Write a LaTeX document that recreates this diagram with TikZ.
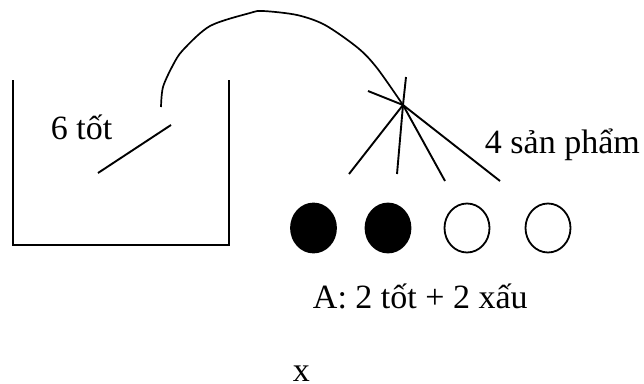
\documentclass[tikz,border=0pt]{standalone}
\usepackage{fontspec}
\setmainfont{Liberation Serif}
\usetikzlibrary{shapes.geometric}
\begin{document}
\begin{tikzpicture}[x=1pt,y=-1pt,line width=1.9pt,
  lbl/.style={font=\fontsize{34}{40}\selectfont, inner sep=0pt},
  ball/.style={ellipse, draw, line width=1.8pt, minimum width=45pt, minimum height=49pt, inner sep=0pt},
  full/.style={ball, fill=black}]
\useasboundingbox (0,0) rectangle (644,383);
% container
\coordinate (bTL) at (13,80);
\coordinate (bBL) at (13,245);
\coordinate (bBR) at (229,245);
\coordinate (bTR) at (229,80);
\draw (bTL) -- (bBL) -- (bBR) -- (bTR);
\coordinate (d1) at (98,173);
\coordinate (d2) at (171,125);
\draw (d1) -- (d2);
\node[lbl, anchor=base west] (six) at (50,139) {6 tốt};
% curve
\coordinate (cs) at (161,107);
\coordinate (star) at (403,105);
\draw[line width=1.7pt] plot[smooth, tension=0.5] coordinates {(161,107) (163,87) (173,65) (183,50) (210,26) (250,13) (263,11) (297,15) (325,25) (358,48) (377,68) (403,105)};
% star lines
\coordinate (sUp) at (406,77);
\coordinate (sLeft) at (368,91);
\coordinate (l1) at (349,174);
\coordinate (l2) at (397,174);
\coordinate (l3) at (445,181);
\coordinate (l4) at (500,181);
\draw (sUp) -- (star);
\draw (sLeft) -- (star);
\draw (star) -- (l1);
\draw (star) -- (l2);
\draw (star) -- (l3);
\draw (star) -- (l4);
\node[lbl, anchor=base west] (four) at (484,153) {4 sản phẩm};
% balls
\node[full] (b1) at (313.5,228) {};
\node[full] (b2) at (388,228) {};
\node[ball] (b3) at (467,228) {};
\node[ball] (b4) at (548,228) {};
\node[lbl, anchor=base west] (A) at (312,308) {A: 2 tốt + 2 xấu};
\node[lbl, anchor=base west] (x) at (292,381) {x};
\end{tikzpicture}
\end{document}
